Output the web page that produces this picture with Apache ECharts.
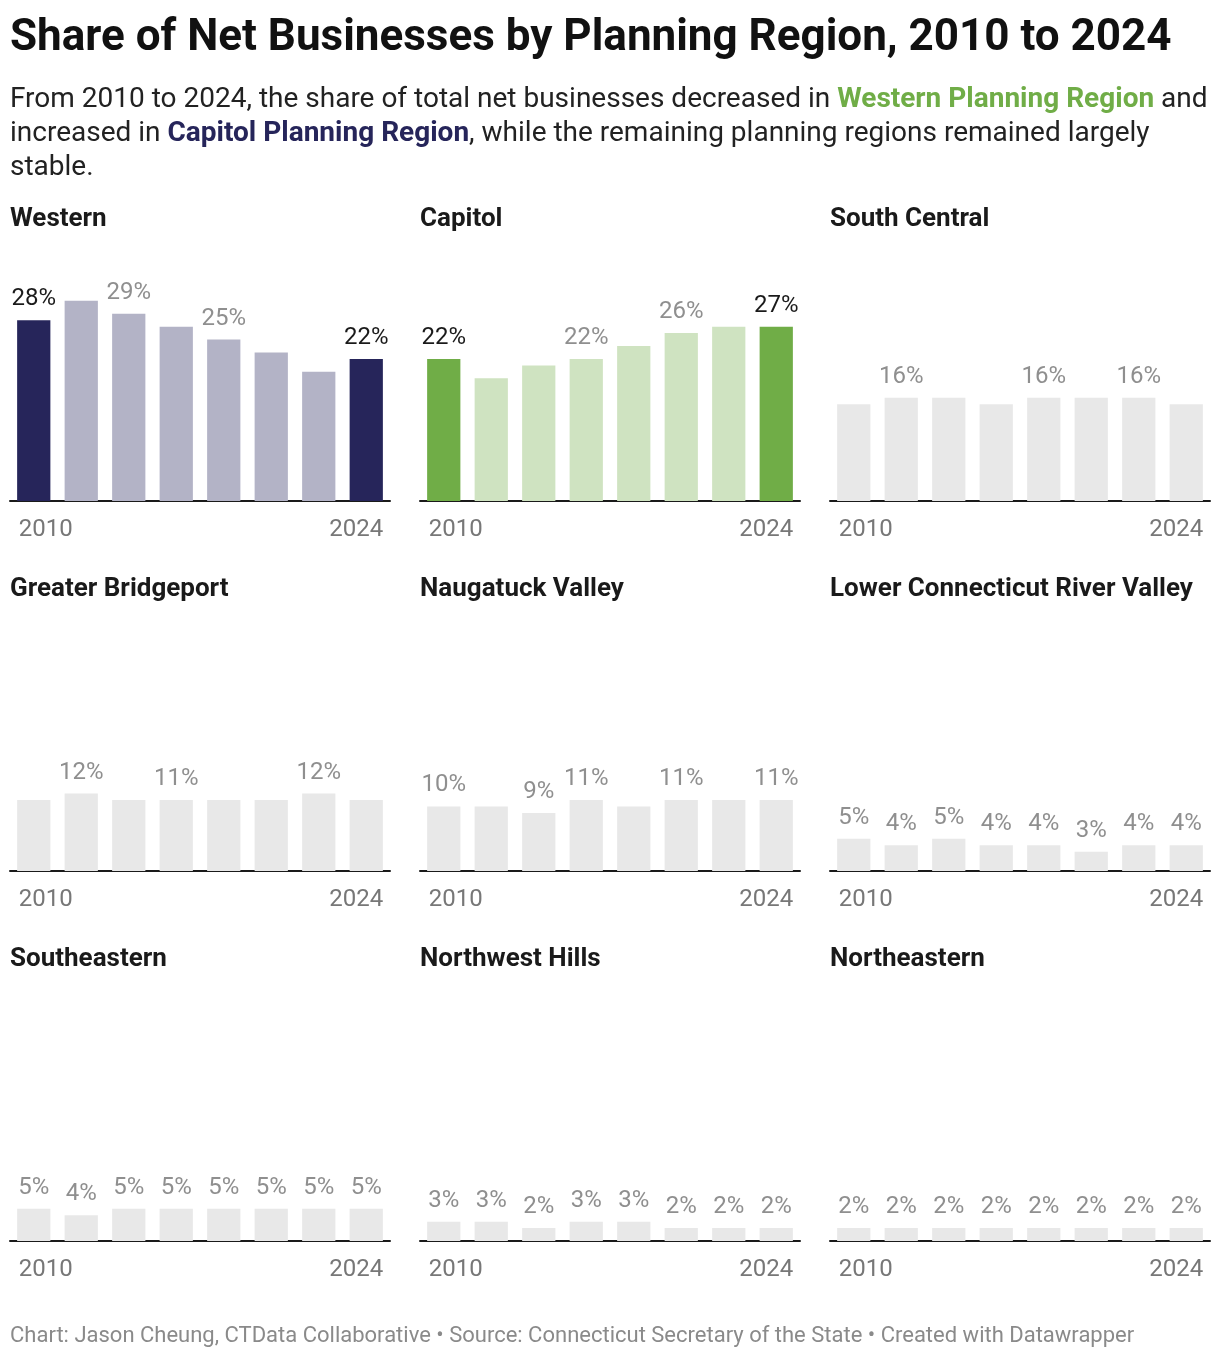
<!DOCTYPE html>
<html>
<head>
<meta charset="utf-8">
<script src="https://cdn.jsdelivr.net/npm/echarts@6/dist/echarts.min.js"></script>
<style>
html,body{margin:0;padding:0;background:#fff;}
#chart{width:1220px;height:1358px;}
</style>
</head>
<body>
<div id="chart"></div>
<script>
// ---- Data ----
const years = ['2010', '2012', '2014', '2016', '2018', '2020', '2022', '2024'];
const regions = ['Western', 'Capitol', 'South Central', 'Greater Bridgeport', 'Naugatuck Valley',
  'Lower Connecticut River Valley', 'Southeastern', 'Northwest Hills', 'Northeastern'];
const western = [28, 31, 29, 27, 25, 23, 20, 22];
const capitol = [22, 19, 21, 22, 24, 26, 27, 27];
const southCentral = [15, 16, 16, 15, 16, 16, 16, 15];
const greaterBridgeport = [11, 12, 11, 11, 11, 11, 12, 11];
const naugatuckValley = [10, 10, 9, 11, 10, 11, 11, 11];
const lowerCTRiverValley = [5, 4, 5, 4, 4, 3, 4, 4];
const southeastern = [5, 4, 5, 5, 5, 5, 5, 5];
const northwestHills = [3, 3, 2, 3, 3, 2, 2, 2];
const northeastern = [2, 2, 2, 2, 2, 2, 2, 2];
// which bars carry a value label in each panel
const labelledBars = [
  [0, 2, 4, 7], [0, 3, 5, 7], [1, 4, 6], [1, 3, 6], [0, 2, 3, 5, 7],
  [0, 1, 2, 3, 4, 5, 6, 7], [0, 1, 2, 3, 4, 5, 6, 7], [0, 1, 2, 3, 4, 5, 6, 7], [0, 1, 2, 3, 4, 5, 6, 7]
];
const allSeries = [western, capitol, southCentral, greaterBridgeport, naugatuckValley,
  lowerCTRiverValley, southeastern, northwestHills, northeastern];

// ---- Styles ----
const FONT = 'Roboto, "Noto Sans", sans-serif';
const palettes = [
  {hi: '#26255a', lo: '#b3b3c6'},
  {hi: '#70ad47', lo: '#cfe3c1'},
  null, null, null, null, null, null, null
];
const GREY_BAR = '#e8e8e8';
const LABEL_SIZE = 24;
const SUB_SIZE = 28;

const colLeft = [10, 420, 830];
const rowBase = [501, 871, 1241];
const gridW = 380, gridH = 226, yMax = 35;

const titles = [
  {left: 10, top: 17, padding: 0, text: 'Share of Net Businesses by Planning Region, 2010 to 2024',
   textStyle: {fontFamily: FONT, fontSize: 44, fontWeight: 'bold', color: '#111'}},
  {left: 10, top: 83, padding: 0,
   text: 'From 2010 to 2024, the share of total net businesses decreased in {g|Western Planning Region} and\n' +
         'increased in {n|Capitol Planning Region}, while the remaining planning regions remained largely\n' +
         'stable.',
   textStyle: {fontFamily: FONT, fontSize: SUB_SIZE, fontWeight: 'normal', color: '#222', lineHeight: 34,
     rich: {
       g: {fontFamily: FONT, fontSize: SUB_SIZE, fontWeight: 'bold', color: '#70ad47', lineHeight: 34},
       n: {fontFamily: FONT, fontSize: SUB_SIZE, fontWeight: 'bold', color: '#26255a', lineHeight: 34}
     }}},
  {left: 10, top: 1325, padding: 0,
   text: 'Chart: Jason Cheung, CTData Collaborative \u2022 Source: Connecticut Secretary of the State \u2022 Created with Datawrapper',
   textStyle: {fontFamily: FONT, fontSize: 22, fontWeight: 'normal', color: '#8a8a8a'}}
];

const grids = [], xAxes = [], yAxes = [], series = [];
regions.forEach((name, i) => {
  const c = i % 3, r = Math.floor(i / 3);
  titles.push({left: colLeft[c], top: rowBase[r] - 295, padding: 0, text: name,
    textStyle: {fontFamily: FONT, fontSize: 26, fontWeight: 'bold', color: '#1a1a1a'}});
  grids.push({left: colLeft[c], width: gridW, top: rowBase[r] - gridH, height: gridH});
  xAxes.push({
    type: 'category', gridIndex: i, data: years,
    axisLine: {show: true, lineStyle: {color: '#1a1a1a', width: 2}},
    axisTick: {show: false},
    axisLabel: {
      interval: 0, margin: 17, color: '#777', fontFamily: FONT, fontSize: LABEL_SIZE,
      formatter: (v, idx) => idx === 0 ? '{l|' + v + '}' : (idx === years.length - 1 ? '{r|' + v + '}' : ''),
      rich: {
        l: {width: 30, align: 'left', color: '#777', fontFamily: FONT, fontSize: LABEL_SIZE},
        r: {width: 34, align: 'right', color: '#777', fontFamily: FONT, fontSize: LABEL_SIZE}
      }
    }
  });
  yAxes.push({type: 'value', gridIndex: i, min: 0, max: yMax, show: false, splitLine: {show: false}});
  const pal = palettes[i];
  const vals = allSeries[i];
  series.push({
    type: 'bar', xAxisIndex: i, yAxisIndex: i, barCategoryGap: '30%',
    silent: true, animation: false,
    data: vals.map((v, k) => {
      const isHi = pal && (k === 0 || k === vals.length - 1);
      const color = pal ? (isHi ? pal.hi : pal.lo) : GREY_BAR;
      return {
        value: v,
        itemStyle: {color},
        label: {
          show: labelledBars[i].indexOf(k) >= 0,
          position: 'top', distance: 9,
          formatter: '{c}%',
          color: isHi ? '#1a1a1a' : '#8f8f8f',
          fontFamily: FONT, fontSize: LABEL_SIZE
        }
      };
    })
  });
});

const chart = echarts.init(document.getElementById('chart'), null, {renderer: 'canvas'});
chart.setOption({
  backgroundColor: '#fff',
  animation: false,
  title: titles,
  grid: grids,
  xAxis: xAxes,
  yAxis: yAxes,
  series: series
});
</script>
</body>
</html>
